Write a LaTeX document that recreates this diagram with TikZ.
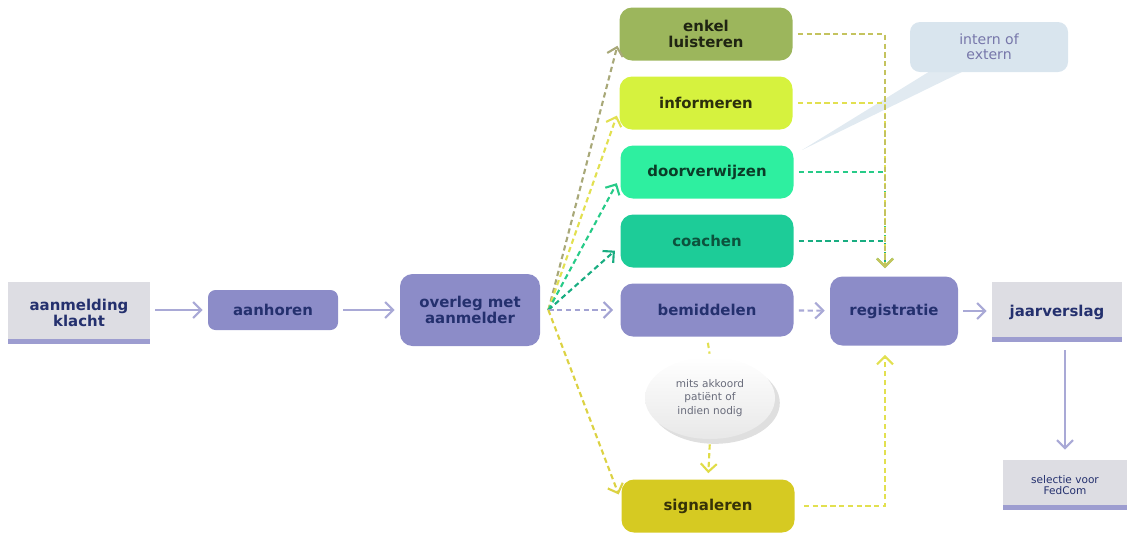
\documentclass[tikz,border=0pt]{standalone}
\usepackage{fontspec}
\setmainfont{DejaVu Sans}
\usetikzlibrary{arrows.meta,shadows,shapes.geometric}

\definecolor{paars}{HTML}{8C8CC8}
\definecolor{navy}{HTML}{24306E}
\definecolor{grijs}{HTML}{DDDDE3}
\definecolor{olijf}{HTML}{9CB65C}
\definecolor{limoen}{HTML}{D6F23E}
\definecolor{mint}{HTML}{2EEFA0}
\definecolor{zeegroen}{HTML}{1DCC98}
\definecolor{mosterd}{HTML}{D6CA22}
\definecolor{wolk}{HTML}{D9E5EE}
\definecolor{geel}{HTML}{E2E050}
\definecolor{grijsolijf}{HTML}{A8A878}

\tikzset{
  box/.style={rounded corners=2.5mm, minimum width=34.6mm, minimum height=10.6mm,
    align=center, inner sep=1pt, font=\bfseries\fontsize{8.5}{9.5}\selectfont},
  paarsbox/.style={box, fill=paars, text=navy},
  grijsbox/.style={align=center, inner sep=1pt, fill=grijs, text=navy,
    font=\bfseries\fontsize{8.5}{9.5}\selectfont,
    path picture={\fill[paars!85] ([yshift=1.1mm]path picture bounding box.south west)
      rectangle (path picture bounding box.south east);}},
  vol/.style={->, line width=1.2pt, draw=paars!75, shorten <=1mm, shorten >=1mm},
  stip/.style={->, line width=1.2pt, dash pattern=on 3pt off 2pt},
  >={Straight Barb[length=1.6mm,width=3.2mm]},
}

\begin{document}
\begin{tikzpicture}[x=0.2mm, y=-0.2mm]
        \useasboundingbox (0,0) rectangle (1132,534);

        % Left chain
        \node[grijsbox, minimum width=28.4mm, minimum height=12.4mm] (klacht) at (79,313) {aanmelding\\klacht};
        \node[paarsbox, rounded corners=1.5mm, minimum width=26mm, minimum height=8mm] (aanhoren) at (273,310) {aanhoren};
        \node[paarsbox, minimum width=28mm, minimum height=14.4mm] (overleg) at (470,310) {overleg met\\aanmelder};

        % Options
        \node[box, fill=olijf, text=black!80!olijf] (enkel) at (706,34) {enkel\\luisteren};
        \node[box, fill=limoen, text=black!80!limoen] (info) at (706,103) {informeren};
        \node[box, fill=mint, text=black!75!mint] (door) at (707,172) {doorverwijzen};
        \node[box, fill=zeegroen, text=black!60!zeegroen] (coach) at (707,241) {coachen};
        \node[paarsbox] (bemid) at (707,310) {bemiddelen};
        \node[box, fill=mosterd, text=black!75!mosterd] (sign) at (708,506) {signaleren};

        % Right side
        \node[paarsbox, minimum width=25.6mm, minimum height=13.8mm] (reg) at (894,311) {registratie};
        \node[grijsbox, minimum width=26mm, minimum height=12mm] (jaar) at (1057,312) {jaarverslag};
        \node[grijsbox, minimum width=24.8mm, minimum height=10mm,
              font=\fontsize{6}{6.5}\selectfont] (fedcom) at (1065,485) {selectie voor\\FedCom};

        % Notes
        \node[ellipse, minimum width=26mm, minimum height=16.4mm, top color=white, bottom color=gray!18,
              drop shadow={opacity=0.25}, align=center, text=gray!75!navy,
              font=\fontsize{6}{7.5}\selectfont] (akkoord) at (710,398) {mits akkoord\\patiënt of\\indien nodig};
        \fill[wolk!80] (935,68) -- (970,68) -- (802,150) -- cycle;
        \node[fill=wolk, rounded corners=2mm, minimum width=31.6mm, minimum height=10mm, align=center,
              text=paars!85!black, font=\fontsize{8}{8.5}\selectfont] (intern) at (989,47) {intern of\\extern};

        % Solid arrows
        \draw[vol] (klacht.east |- aanhoren.west) -- (aanhoren.west);
        \draw[vol] (aanhoren) -- (overleg);
        \draw[vol] (reg.east) -- (jaar.west |- reg.east);
        \draw[vol, shorten <=1.6mm, shorten >=2mm] (fedcom.north |- jaar.south) -- (fedcom.north);

        % Fan out of overleg
        \coordinate (fan) at ([xshift=1.6mm]overleg.east);
        \draw[stip, draw=grijsolijf, shorten >=1.4mm] (fan) -- ([yshift=-1mm]enkel.west);
        \draw[stip, draw=geel, shorten >=1.4mm] (fan) -- ([yshift=-1.2mm]info.west);
        \draw[stip, draw=mint!85!black, shorten >=1.4mm] (fan) -- ([yshift=-1mm]door.west);
        \draw[stip, draw=zeegroen!85!black, shorten >=1.4mm] (fan) -- ([yshift=-1mm]coach.west);
        \draw[stip, draw=paars!80, shorten >=1.4mm] (fan) -- (bemid.west);
        \draw[stip, draw=mosterd!85, shorten >=1.4mm] (fan) -- ([yshift=1mm]sign.west);

        % Into registratie
        \coordinate (trunk) at ([xshift=-1.8mm]reg.north);
        \coordinate (trunkb) at ([xshift=-1.8mm]reg.south);
        \draw[stip, draw=zeegroen!85!black, shorten <=1mm, shorten >=1.6mm] (coach.east) -| (trunk);
        \draw[stip, draw=mint!85!black, shorten <=1mm, shorten >=1.6mm] (door.east) -| (trunk);
        \draw[stip, draw=geel, shorten <=1mm, shorten >=1.6mm] (info.east) -| (trunk);
        \draw[stip, draw=geel!70!gray, shorten <=1mm, shorten >=1.6mm] (enkel.east) -| (trunk);
        \draw[stip, draw=paars!75, shorten <=1mm, shorten >=1mm] (bemid) -- (reg);
        \draw[stip, draw=geel, shorten <=1.8mm, shorten >=1.8mm] (sign.east) -| (trunkb);

        % Via the note
        \draw[stip, -, draw=geel, shorten <=1.2mm, shorten >=0.6mm] (bemid.south) -- (akkoord.north);
        \draw[stip, draw=geel!80!mosterd, shorten <=1mm, shorten >=1.2mm] (akkoord.south) -- (sign.north);

    \end{tikzpicture}
\end{document}
